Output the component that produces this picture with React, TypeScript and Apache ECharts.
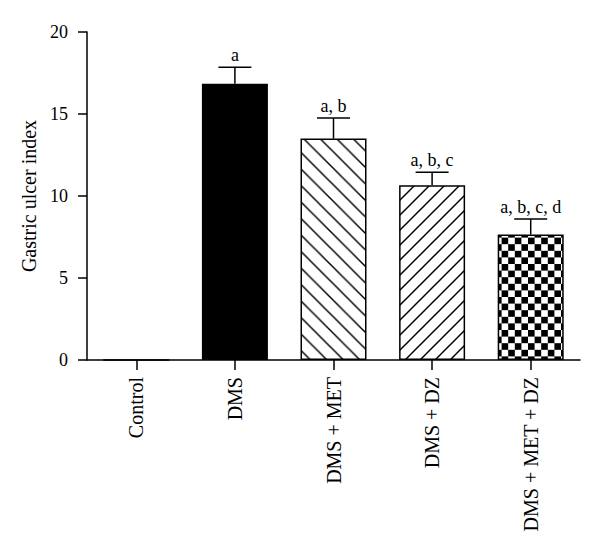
import React, { useEffect, useRef } from "react";
import * as echarts from "echarts";

const categories = ["Control", "DMS", "DMS + MET", "DMS + DZ", "DMS + MET + DZ"];
const means = [0, 16.85, 13.5, 10.65, 7.65];
const upper = [0, 17.85, 14.75, 11.45, 8.6];
const letters = ["", "a", "a, b", "a, b, c", "a, b, c, d"];
const fills = ["white", "black", "back", "fwd", "checker"];

const FONT = "Liberation Serif";

function svgUrl(svg: string) {
  return "data:image/svg+xml;charset=utf-8," + encodeURIComponent(svg);
}

function makePattern(kind: string): any {
  if (kind === "white") return "#ffffff";
  if (kind === "black") return "#000000";
  if (kind === "back") {
    const s = 16.5;
    const svg = `<svg xmlns="http://www.w3.org/2000/svg" width="${s}" height="${s}"><rect width="${s}" height="${s}" fill="white"/><g stroke="black" stroke-width="1.5"><line x1="0" y1="0" x2="${s}" y2="${s}"/><line x1="${-s}" y1="0" x2="${s}" y2="${2 * s}"/><line x1="0" y1="${-s}" x2="${2 * s}" y2="${s}"/></g></svg>`;
    return { image: svgUrl(svg), repeat: "repeat", imageWidth: s, imageHeight: s };
  }
  if (kind === "fwd") {
    const s = 15;
    const svg = `<svg xmlns="http://www.w3.org/2000/svg" width="${s}" height="${s}"><rect width="${s}" height="${s}" fill="white"/><g stroke="black" stroke-width="1.5"><line x1="0" y1="${s}" x2="${s}" y2="0"/><line x1="${-s}" y1="${s}" x2="${s}" y2="${-s}"/><line x1="0" y1="${2 * s}" x2="${2 * s}" y2="0"/></g></svg>`;
    return { image: svgUrl(svg), repeat: "repeat", imageWidth: s, imageHeight: s };
  }
  const c = 6.6;
  const t = 2 * c;
  const svg = `<svg xmlns="http://www.w3.org/2000/svg" width="${t}" height="${t}"><rect width="${t}" height="${t}" fill="white"/><rect x="0" y="0" width="${c}" height="${c}" fill="black"/><rect x="${c}" y="${c}" width="${c}" height="${c}" fill="black"/></svg>`;
  return { image: svgUrl(svg), repeat: "repeat", imageWidth: t, imageHeight: t };
}

export default function App() {
  const ref = useRef<HTMLDivElement>(null);
  useEffect(() => {
    if (!ref.current) return;
    const chart = echarts.init(ref.current, undefined, { renderer: "svg" });
    const barData = means.map((v, i) => ({
      value: v,
      itemStyle: {
        color: makePattern(fills[i]),
        borderColor: "#000",
        borderWidth: 1.5,
      },
    }));
    const errData = means
      .map((v, i) => ({ value: [i, v, upper[i]], label: letters[i] }))
      .filter((d) => d.label !== "");
    chart.setOption({
      animation: false,
      backgroundColor: "#ffffff",
      grid: { left: 87, right: 20, top: 32, bottom: 193, containLabel: false },
      xAxis: {
        type: "category",
        data: categories,
        boundaryGap: true,
        axisLine: { show: true, lineStyle: { color: "#000", width: 1.5 } },
        axisTick: { show: true, alignWithLabel: true, length: 10, lineStyle: { color: "#000", width: 1.5 } },
        axisLabel: {
          rotate: 90,
          margin: 17,
          color: "#000",
          fontFamily: FONT,
          fontSize: 20,
          interval: 0,
        },
        splitLine: { show: false },
      },
      yAxis: {
        type: "value",
        min: 0,
        max: 20,
        interval: 5,
        name: "Gastric ulcer index",
        nameLocation: "middle",
        nameGap: 46,
        nameTextStyle: { color: "#000", fontFamily: FONT, fontSize: 20 },
        axisLine: { show: true, lineStyle: { color: "#000", width: 1.5 } },
        axisTick: { show: true, length: 9, lineStyle: { color: "#000", width: 1.5 } },
        axisLabel: { margin: 19, color: "#000", fontFamily: FONT, fontSize: 18 },
        splitLine: { show: false },
      },
      series: [
        {
          type: "bar",
          data: barData,
          barWidth: 66,
          z: 2,
        },
        {
          type: "custom",
          data: errData,
          z: 3,
          renderItem: (params: any, api: any) => {
            const d = errData[params.dataIndex];
            const idx = api.value(0);
            const top = api.coord([idx, api.value(1)]);
            const hi = api.coord([idx, api.value(2)]);
            const half = 16.5;
            return {
              type: "group",
              children: [
                {
                  type: "line",
                  shape: { x1: top[0], y1: top[1], x2: hi[0], y2: hi[1] },
                  style: { stroke: "#000", lineWidth: 1.5 },
                },
                {
                  type: "line",
                  shape: { x1: hi[0] - half, y1: hi[1], x2: hi[0] + half, y2: hi[1] },
                  style: { stroke: "#000", lineWidth: 1.5 },
                },
                {
                  type: "text",
                  x: hi[0],
                  y: hi[1] - 3,
                  style: {
                    text: d.label,
                    fill: "#000",
                    font: `18px "${FONT}"`,
                    textAlign: "center",
                    textVerticalAlign: "bottom",
                  },
                },
              ],
            };
          },
        },
      ],
    });
    return () => chart.dispose();
  }, []);
  return (
    <div
      ref={ref}
      style={{ position: "fixed", left: 0, top: 0, width: 600, height: 553, background: "#fff" }}
    />
  );
}
